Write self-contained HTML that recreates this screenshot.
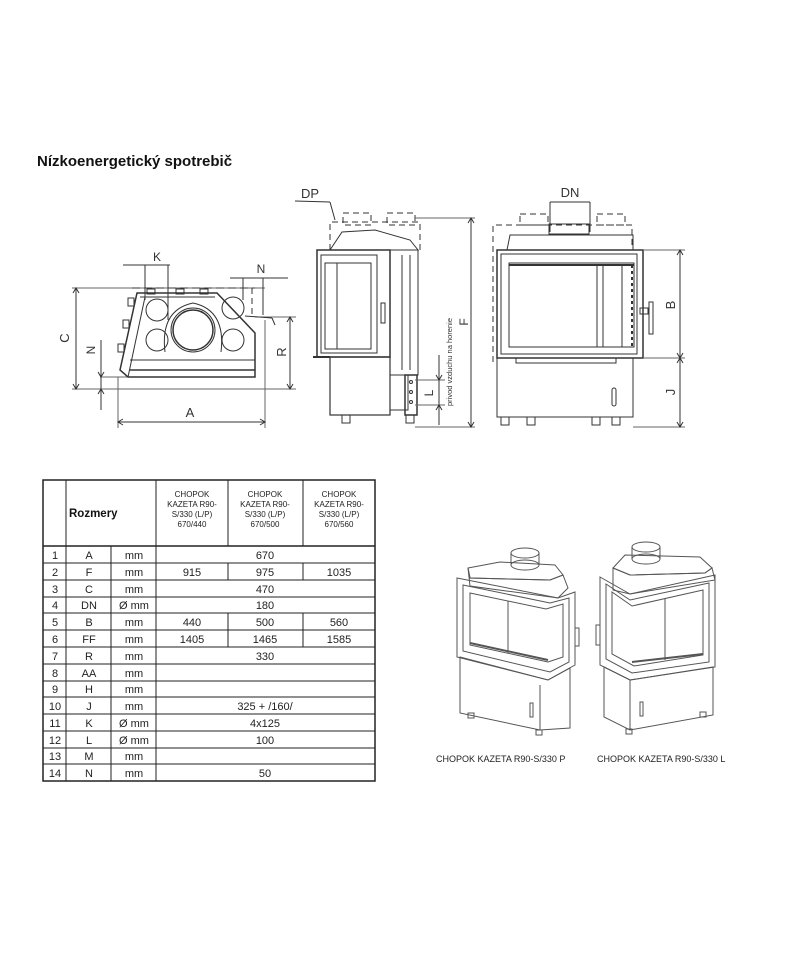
<!DOCTYPE html>
<html><head><meta charset="utf-8"><style>
html,body{margin:0;padding:0;background:#fff;}
svg{display:block;font-family:"Liberation Sans",sans-serif;}
</style></head><body>
<svg width="800" height="960" viewBox="0 0 800 960" xmlns="http://www.w3.org/2000/svg">
<rect width="800" height="960" fill="#fff"/>
<text x="37" y="166" font-size="15" font-weight="bold" fill="#111">Nízkoenergetický spotrebič</text>

<!-- LEFT TOP VIEW -->
<g stroke="#333" fill="none" stroke-width="1">
  <line x1="72" y1="288" x2="265" y2="288" stroke="#666"/>
  <line x1="72" y1="389" x2="265" y2="389" stroke="#666"/>
  <line x1="76" y1="288" x2="76" y2="389"/>
  <polyline points="73,293 76,288 79,293"/><polyline points="73,384 76,389 79,384"/>
  <line x1="118" y1="377" x2="118" y2="428" stroke="#666"/>
  <line x1="265" y1="320" x2="265" y2="428" stroke="#666"/>
  <line x1="118" y1="422" x2="265" y2="422"/>
  <polyline points="123,419 118,422 123,425"/><polyline points="260,419 265,422 260,425"/>
  <line x1="290" y1="317" x2="290" y2="389"/>
  <line x1="255" y1="317" x2="296" y2="317" stroke="#666"/>
  <line x1="265" y1="389" x2="296" y2="389" stroke="#666"/>
  <polyline points="287,322 290,317 293,322"/><polyline points="287,384 290,389 293,384"/>
  <line x1="101" y1="340" x2="101" y2="410"/>
  <line x1="100" y1="377" x2="130" y2="377" stroke="#666"/>
  <polyline points="98,372 101,377 104,372"/><polyline points="98,394 101,389 104,394"/>
  <line x1="123" y1="265" x2="170" y2="265"/>
  <line x1="145" y1="265" x2="145" y2="300"/>
  <line x1="168" y1="265" x2="168" y2="320"/>
  <line x1="230" y1="278" x2="288" y2="278"/>
  <line x1="243" y1="278" x2="243" y2="300"/>
  <line x1="263" y1="278" x2="263" y2="315"/>
  <polygon points="137,293 217,293 255,333 255,377 128,377 120,370" stroke-width="1.5"/>
  <line x1="140" y1="297" x2="215" y2="297"/>
  <line x1="145" y1="297" x2="128" y2="377"/>
  <line x1="130" y1="360" x2="255" y2="360"/>
  <line x1="130" y1="370" x2="255" y2="370" stroke-width="1.5"/>
  <circle cx="193" cy="330" r="20" stroke-width="1.5"/>
  <circle cx="193" cy="330" r="22"/>
  <path d="M165,352 Q160,310 193,303 Q226,310 221,352"/>
  <circle cx="157" cy="310" r="11"/><circle cx="157" cy="340" r="11"/>
  <circle cx="233" cy="308" r="11"/><circle cx="233" cy="340" r="11"/>
  <rect x="147" y="289" width="8" height="5"/><rect x="176" y="289" width="8" height="5"/><rect x="200" y="289" width="8" height="5"/>
  <rect x="128" y="298" width="6" height="8"/><rect x="123" y="320" width="6" height="8"/><rect x="118" y="344" width="6" height="8"/>
  <line x1="245" y1="316" x2="272" y2="318"/><line x1="272" y1="318" x2="275" y2="325"/>
  <line x1="132" y1="288" x2="255" y2="288" stroke-dasharray="8,4"/>
  <line x1="252" y1="288" x2="252" y2="318" stroke-dasharray="6,4"/>
</g>
<text x="157" y="261" font-size="12" fill="#333" text-anchor="middle">K</text>
<text x="261" y="273" font-size="12" fill="#333" text-anchor="middle">N</text>
<text x="190" y="417" font-size="13" fill="#333" text-anchor="middle">A</text>
<text transform="translate(69,338) rotate(-90)" font-size="13" fill="#333" text-anchor="middle">C</text>
<text transform="translate(95,350) rotate(-90)" font-size="12" fill="#333" text-anchor="middle">N</text>
<text transform="translate(286,352) rotate(-90)" font-size="13" fill="#333" text-anchor="middle">R</text>

<!-- SIDE VIEW -->
<g stroke="#333" fill="none" stroke-width="1">
  <line x1="295" y1="201" x2="330" y2="202"/><line x1="330" y1="202" x2="335" y2="220"/>
  <rect x="343" y="213" width="28" height="12" stroke-dasharray="6,4"/>
  <rect x="387" y="213" width="28" height="12" stroke-dasharray="6,4"/>
  <polyline points="330,250 330,222 420,222 420,250" stroke-dasharray="6,4"/>
  <polygon points="330,250 342,232 375,230 410,240 418,250" />
  <rect x="317" y="250" width="73" height="107" stroke-width="1.5"/>
  <rect x="321" y="255" width="56" height="98"/>
  <rect x="325" y="263" width="46" height="86"/>
  <line x1="337" y1="263" x2="337" y2="349"/>
  <rect x="381" y="303" width="4" height="20"/>
  <rect x="390" y="250" width="28" height="125"/>
  <line x1="402" y1="255" x2="402" y2="370"/><line x1="410" y1="255" x2="410" y2="370"/>
  <rect x="330" y="357" width="60" height="58" stroke-width="1.2"/>
  <line x1="313" y1="357" x2="330" y2="357" stroke-width="2"/>
  <rect x="390" y="375" width="18" height="35"/>
  <rect x="405" y="375" width="12" height="40" stroke-width="1.5"/>
  <circle cx="411" cy="382" r="1.5"/><circle cx="411" cy="392" r="1.5"/><circle cx="411" cy="402" r="1.5"/>
  <rect x="342" y="415" width="8" height="8"/><rect x="406" y="415" width="8" height="8"/>
  <line x1="415" y1="218" x2="475" y2="218" stroke="#666"/>
  <line x1="415" y1="427" x2="475" y2="427" stroke="#666"/>
  <line x1="471" y1="218" x2="471" y2="427"/>
  <polyline points="468,223 471,218 474,223"/><polyline points="468,422 471,427 474,422"/>
  <line x1="415" y1="380" x2="445" y2="380" stroke="#666"/><line x1="415" y1="405" x2="445" y2="405" stroke="#666"/>
  <line x1="439" y1="355" x2="439" y2="425"/>
  <polyline points="436,375 439,380 442,375"/><polyline points="436,410 439,405 442,410"/>
</g>
<text x="310" y="198" font-size="13" fill="#333" text-anchor="middle">DP</text>
<text transform="translate(433,393) rotate(-90)" font-size="12" fill="#333" text-anchor="middle">L</text>
<text transform="translate(452,362) rotate(-90)" font-size="7.5" fill="#333" text-anchor="middle">privod vzduchu na horenie</text>
<text transform="translate(468,322) rotate(-90)" font-size="12" fill="#333" text-anchor="middle">F</text>

<!-- FRONT VIEW -->
<g stroke="#333" fill="none" stroke-width="1">
  <line x1="550" y1="202" x2="590" y2="202"/>
  <line x1="550" y1="202" x2="550" y2="232"/><line x1="590" y1="202" x2="590" y2="232"/>
  <rect x="520" y="214" width="28" height="11" stroke-dasharray="6,4"/>
  <rect x="597" y="214" width="28" height="11" stroke-dasharray="6,4"/>
  <polyline points="493,362 493,225 632,225 632,245" stroke-dasharray="6,4"/>
  <rect x="549" y="224" width="40" height="10"/>
  <polygon points="507,250 510,235 633,235 633,250"/>
  <rect x="497" y="250" width="146" height="108" stroke-width="1.5"/>
  <rect x="501" y="254" width="136" height="100"/>
  <rect x="509" y="263" width="125" height="84"/>
  <line x1="509" y1="265" x2="634" y2="265" stroke-width="2"/>
  <line x1="597" y1="265" x2="597" y2="347"/><line x1="603" y1="265" x2="603" y2="347"/><line x1="622" y1="265" x2="622" y2="347"/>
  <line x1="632" y1="265" x2="632" y2="347" stroke-dasharray="3,3" stroke-width="2"/>
  <rect x="640" y="308" width="8" height="6"/><rect x="649" y="302" width="4" height="32"/>
  <rect x="497" y="358" width="136" height="59"/>
  <rect x="516" y="358" width="100" height="5"/>
  <rect x="612" y="388" width="4" height="18" rx="2"/>
  <rect x="501" y="417" width="8" height="8"/><rect x="527" y="417" width="8" height="8"/><rect x="592" y="417" width="8" height="8"/><rect x="612" y="417" width="8" height="8"/>
  <line x1="643" y1="250" x2="685" y2="250" stroke="#666"/>
  <line x1="643" y1="358" x2="685" y2="358" stroke="#666"/>
  <line x1="633" y1="427" x2="685" y2="427" stroke="#666"/>
  <line x1="680" y1="250" x2="680" y2="427"/>
  <polyline points="677,255 680,250 683,255"/><polyline points="677,353 680,358 683,353"/>
  <polyline points="677,363 680,358 683,363"/><polyline points="677,422 680,427 683,422"/>
</g>
<text x="570" y="197" font-size="13" fill="#333" text-anchor="middle">DN</text>
<text transform="translate(675,305) rotate(-90)" font-size="13" fill="#333" text-anchor="middle">B</text>
<text transform="translate(675,392) rotate(-90)" font-size="13" fill="#333" text-anchor="middle">J</text>

<!-- TABLE -->
<g stroke="#222" fill="none" stroke-width="1">
  <rect x="43" y="480" width="332" height="301" stroke-width="1.5"/>
  <line x1="66" y1="480" x2="66" y2="781"/>
  <line x1="156" y1="480" x2="156" y2="781"/>
  <line x1="228" y1="480" x2="228" y2="546"/>
  <line x1="303" y1="480" x2="303" y2="546"/>
  <line x1="111" y1="546" x2="111" y2="781"/>
  <line x1="43" y1="546" x2="375" y2="546" stroke-width="1.5"/>
  <g>
    <line x1="43" y1="563" x2="375" y2="563"/><line x1="43" y1="580" x2="375" y2="580"/>
    <line x1="43" y1="597" x2="375" y2="597"/><line x1="43" y1="613" x2="375" y2="613"/>
    <line x1="43" y1="630" x2="375" y2="630"/><line x1="43" y1="647" x2="375" y2="647"/>
    <line x1="43" y1="664" x2="375" y2="664"/><line x1="43" y1="681" x2="375" y2="681"/>
    <line x1="43" y1="697" x2="375" y2="697"/><line x1="43" y1="714" x2="375" y2="714"/>
    <line x1="43" y1="731" x2="375" y2="731"/><line x1="43" y1="748" x2="375" y2="748"/>
    <line x1="43" y1="764" x2="375" y2="764"/>
  </g>
  <line x1="228" y1="563" x2="228" y2="580"/><line x1="303" y1="563" x2="303" y2="580"/>
  <line x1="228" y1="613" x2="228" y2="647"/><line x1="303" y1="613" x2="303" y2="647"/>
</g>
<text x="69" y="517" font-size="11.5" font-weight="bold" fill="#111">Rozmery</text>
<g font-size="8" fill="#222" text-anchor="middle">
  <text x="192" y="497">CHOPOK</text><text x="192" y="507">KAZETA R90-</text><text x="192" y="517">S/330 (L/P)</text><text x="192" y="527">670/440</text>
  <text x="265" y="497">CHOPOK</text><text x="265" y="507">KAZETA R90-</text><text x="265" y="517">S/330 (L/P)</text><text x="265" y="527">670/500</text>
  <text x="339" y="497">CHOPOK</text><text x="339" y="507">KAZETA R90-</text><text x="339" y="517">S/330 (L/P)</text><text x="339" y="527">670/560</text>
</g>
<g font-size="11" fill="#222" text-anchor="middle">
  <text x="55" y="559">1</text><text x="89" y="559">A</text><text x="134" y="559">mm</text><text x="265" y="559">670</text>
  <text x="55" y="576">2</text><text x="89" y="576">F</text><text x="134" y="576">mm</text><text x="192" y="576">915</text><text x="265" y="576">975</text><text x="339" y="576">1035</text>
  <text x="55" y="593">3</text><text x="89" y="593">C</text><text x="134" y="593">mm</text><text x="265" y="593">470</text>
  <text x="55" y="609">4</text><text x="89" y="609">DN</text><text x="134" y="609">Ø mm</text><text x="265" y="609">180</text>
  <text x="55" y="626">5</text><text x="89" y="626">B</text><text x="134" y="626">mm</text><text x="192" y="626">440</text><text x="265" y="626">500</text><text x="339" y="626">560</text>
  <text x="55" y="643">6</text><text x="89" y="643">FF</text><text x="134" y="643">mm</text><text x="192" y="643">1405</text><text x="265" y="643">1465</text><text x="339" y="643">1585</text>
  <text x="55" y="660">7</text><text x="89" y="660">R</text><text x="134" y="660">mm</text><text x="265" y="660">330</text>
  <text x="55" y="677">8</text><text x="89" y="677">AA</text><text x="134" y="677">mm</text>
  <text x="55" y="693">9</text><text x="89" y="693">H</text><text x="134" y="693">mm</text>
  <text x="55" y="710">10</text><text x="89" y="710">J</text><text x="134" y="710">mm</text><text x="265" y="710">325 + /160/</text>
  <text x="55" y="727">11</text><text x="89" y="727">K</text><text x="134" y="727">Ø mm</text><text x="265" y="727">4x125</text>
  <text x="55" y="744">12</text><text x="89" y="744">L</text><text x="134" y="744">Ø mm</text><text x="265" y="744">100</text>
  <text x="55" y="760">13</text><text x="89" y="760">M</text><text x="134" y="760">mm</text>
  <text x="55" y="777">14</text><text x="89" y="777">N</text><text x="134" y="777">mm</text><text x="265" y="777">50</text>
</g>

<!-- PHOTO P -->
<g stroke="#555" fill="none" stroke-width="1">
  <ellipse cx="525" cy="553" rx="14" ry="5"/>
  <line x1="511" y1="553" x2="511" y2="565"/><line x1="539" y1="553" x2="539" y2="565"/>
  <ellipse cx="525" cy="565" rx="14" ry="5"/>
  <polygon points="468,568 500,562 555,565 563,575 550,580 470,578"/>
  <polygon points="468,568 470,578 550,580 563,575 568,588 558,598 470,586"/>
  <polygon points="457,578 558,598 575,592 575,665 548,680 457,657"/>
  <polygon points="463,585 550,603 569,598 569,662 550,672 463,651"/>
  <polygon points="470,593 546,609 563,604 563,657 548,662 470,645"/>
  <line x1="508" y1="601" x2="508" y2="653"/>
  <line x1="470" y1="643" x2="548" y2="660" stroke-width="2"/>
  <rect x="575" y="628" width="4" height="18"/>
  <polygon points="460,657 548,680 570,668 570,728 540,730 460,713"/>
  <line x1="540" y1="685" x2="540" y2="730"/>
  <rect x="530" y="703" width="3" height="14"/>
  <rect x="468" y="713" width="6" height="5"/><rect x="536" y="730" width="6" height="5"/>
</g>
<text x="436" y="762" font-size="9" fill="#222">CHOPOK KAZETA R90-S/330 P</text>

<!-- PHOTO L -->
<g stroke="#555" fill="none" stroke-width="1">
  <ellipse cx="646" cy="547" rx="14" ry="5"/>
  <line x1="632" y1="547" x2="632" y2="559"/><line x1="660" y1="547" x2="660" y2="559"/>
  <ellipse cx="646" cy="559" rx="14" ry="5"/>
  <polygon points="613,568 625,555 700,557 712,568 705,573 630,575"/>
  <polygon points="613,568 630,575 705,573 712,568 715,580 630,594 613,590"/>
  <polygon points="600,577 630,594 715,575 715,667 630,680 600,665"/>
  <polygon points="606,584 630,600 709,583 709,662 632,673 606,659"/>
  <polygon points="612,592 632,606 703,590 703,655 634,666 612,654"/>
  <line x1="665" y1="598" x2="665" y2="660"/>
  <line x1="632" y1="662" x2="703" y2="654" stroke-width="2"/>
  <rect x="596" y="625" width="4" height="20"/>
  <polygon points="604,667 630,680 713,667 713,715 630,730 604,717"/>
  <line x1="630" y1="680" x2="630" y2="730"/>
  <rect x="640" y="702" width="3" height="14"/>
  <rect x="626" y="729" width="6" height="5"/><rect x="700" y="712" width="6" height="5"/>
</g>
<text x="597" y="762" font-size="9" fill="#222">CHOPOK KAZETA R90-S/330 L</text>
</svg>
</body></html>
